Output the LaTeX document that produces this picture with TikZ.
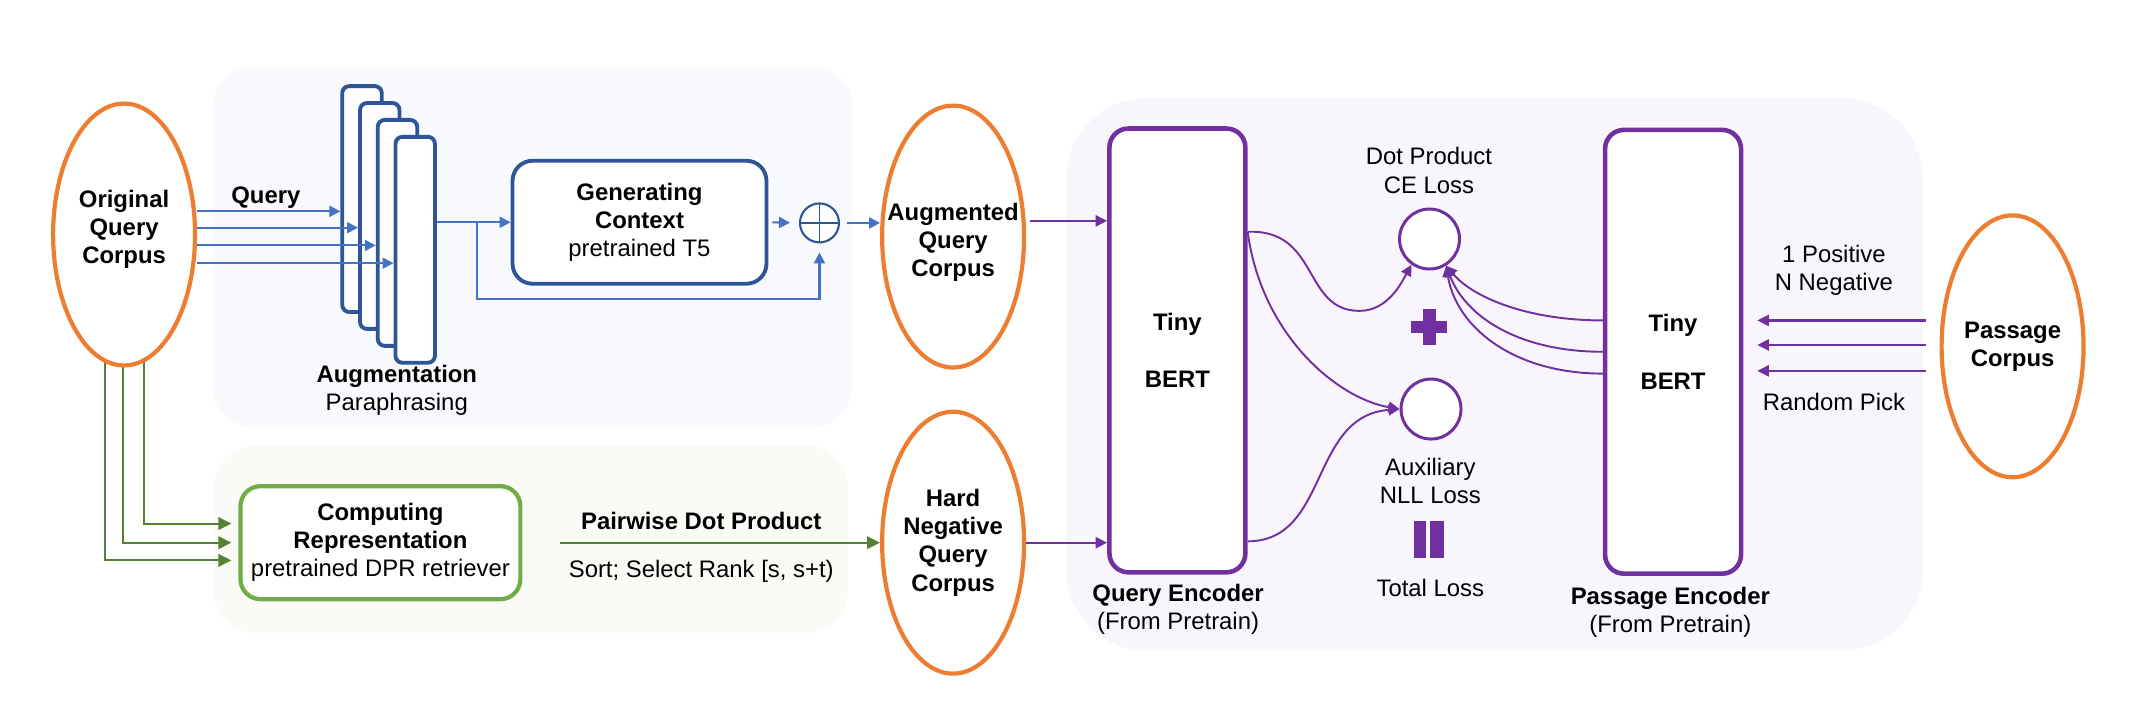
\documentclass[tikz,border=0pt]{standalone}
\usepackage{fontspec}
\setmainfont{Liberation Sans}
\usetikzlibrary{shapes, backgrounds, arrows.meta, positioning}

\definecolor{corpusorange}{HTML}{ED7D31}
\definecolor{augblue}{HTML}{2F5597}
\definecolor{arrowblue}{HTML}{4472C4}
\definecolor{repgreen}{HTML}{70AD47}
\definecolor{arrowgreen}{HTML}{548235}
\definecolor{encpurple}{HTML}{7030A0}
\definecolor{toppanel}{HTML}{F7F9FC}
\definecolor{botpanel}{HTML}{FAFAF7}
\definecolor{rightpanel}{HTML}{F8F6FC}

\begin{document}
\begin{tikzpicture}[x=0.013635cm, y=-0.013635cm, font=\fontsize{6.8}{8}\selectfont,
        >={Triangle[length=1.1mm,width=1.1mm]}]
        \tikzstyle{every node}=[align=center]
        \tikzstyle{corpus}=[ellipse, draw=corpusorange, line width=1.2pt, fill=white, minimum width=1.42cm, minimum height=2.62cm, inner sep=0pt]
        \tikzstyle{corpustext}=[font=\fontsize{6.8}{8}\selectfont\bfseries, inner sep=0pt]
        \tikzstyle{augrect}=[draw=augblue, fill=white, line width=1.1pt, rounded corners=2pt, minimum width=0.395cm, minimum height=2.26cm]
        \tikzstyle{genbox}=[draw=augblue, fill=white, line width=1.1pt, rounded corners=0.2cm, minimum width=2.54cm, minimum height=1.23cm]
        \tikzstyle{oplus}=[circle, draw=augblue, line width=0.6pt, fill=white, minimum size=0.39cm, inner sep=0pt,
            path picture={\draw[augblue, line width=0.5pt] (path picture bounding box.north) -- (path picture bounding box.south)
            (path picture bounding box.west) -- (path picture bounding box.east);}]
        \tikzstyle{repbox}=[draw=repgreen, fill=white, line width=1.2pt, rounded corners=0.2cm, minimum width=2.8cm, minimum height=1.13cm, inner sep=1pt]
        \tikzstyle{encbox}=[draw=encpurple, fill=white, line width=1.3pt, rounded corners=0.19cm, minimum width=1.36cm, minimum height=4.44cm]
        \tikzstyle{losscirc}=[circle, draw=encpurple, line width=0.85pt, fill=white, minimum size=0.6cm, inner sep=0pt]
        \tikzstyle{barrow}=[->, draw=arrowblue, line width=0.6pt]
        \tikzstyle{garrow}=[-{Triangle[length=1.3mm,width=1.25mm]}, draw=arrowgreen, line width=0.6pt]
        \tikzstyle{parrow}=[-{Triangle[length=1.15mm,width=1.1mm]}, draw=encpurple, line width=0.65pt]
        \tikzstyle{pcurve}=[->, draw=encpurple, line width=0.55pt]

        \useasboundingbox (0,0) rectangle (1568,522);

        % corpora
        \node[corpus] at (91, 172) (oqc) {};
        \node[corpustext] at (91, 168) (oqctext) {Original\\Query\\Corpus};
        \node[corpus] at (699, 173.5) (augq) {};
        \node[corpustext] at (699, 177.5) (augqtext) {Augmented\\Query\\Corpus};
        \node[corpus] at (699, 398) (hneg) {};
        \node[corpustext] at (hneg) (hnegtext) {Hard\\Negative\\Query\\Corpus};
        \node[corpus] at (1476, 254) (pcorp) {};
        \node[corpustext] at (pcorp) (pcorptext) {Passage\\Corpus};

        % augmentation
        \foreach \i in {0,...,3}
            \node[augrect] at (265.5+13*\i, 146+12.4*\i) (aug\i) {};
        \foreach \i/\y in {0/155, 1/167, 2/180, 3/193}
            \draw[barrow] (oqc.east |- 0,\y) -- (aug\i.west |- 0,\y);
        \node at (195, 145) (querylab) {\textbf{Query}};
        \node at (291, 286) (auglab) {\textbf{Augmentation}\\Paraphrasing};

        \node[genbox] at (469, 163) (gen) {\textbf{Generating}\\\textbf{Context}\\pretrained T5};
        \node[oplus] at (601, 163.5) (oplus) {};
        \coordinate (br) at (350, 163);
        \coordinate (brdown) at (350, 219.5);

        \draw[barrow] (aug3.east |- gen.west) -- (gen.west);
        \draw[barrow, shorten >=0.9mm] (br) -- (brdown) -| (oplus.south);
        \draw[barrow, shorten <=0.4mm, shorten >=0.9mm] (gen.east) -- (oplus.west);
        \draw[barrow, shorten <=0.7mm] (oplus.east) -- (augq.west |- oplus.east);

        % hard negatives
        \node[repbox] at (279, 398) (rep) {\textbf{Computing}\\\textbf{Representation}\\pretrained DPR retriever};
        \draw[garrow, shorten <=3.8mm] (rep.east) -- (hneg.west |- rep.east)
            node[midway, above] (pairlab) {\textbf{Pairwise Dot Product}}
            node[midway, below, yshift=-0.5mm] (sortlab) {Sort; Select Rank [s, s+t)};

        % encoders
        \node[encbox] at (863.5, 257) (qenc) {\textbf{Tiny}\\[8.3pt]\textbf{BERT}};
        \node[encbox] at (1227, 258) (penc) {\textbf{Tiny}\\[8.3pt]\textbf{BERT}};
        \node at (864, 447) (qenclab) {\textbf{Query Encoder}\\(From Pretrain)};
        \node at (1225, 449) (penclab) {\textbf{Passage Encoder}\\(From Pretrain)};

        \node[losscirc] at (1048.4, 175.3) (dotc) {};
        \node[losscirc] at (1049.5, 300) (auxc) {};
        \node at (1048, 125) (dotlab) {Dot Product\\CE Loss};
        \node at (1049, 353) (auxlab) {Auxiliary\\NLL Loss};
        \node at (1049, 431) (totlab) {Total Loss};
        \node at (1345, 198) (poslab) {1 Positive\\N Negative};
        \node at (1345, 295) (randlab) {Random Pick};

        \fill[encpurple] (1035,235.5) rectangle (1061.5,244.5);
        \fill[encpurple] (1043.8,226.6) rectangle (1052.8,253);
        \fill[encpurple] (1037,382) rectangle (1046,409);
        \fill[encpurple] (1048.5,382) rectangle (1059,409);

        \draw[parrow, shorten <=0.4mm] (augq.east |- 0,162) -- (qenc.west |- 0,162);
        \draw[parrow] (hneg.east |- 0,398) -- (qenc.west |- 0,398);

        \draw[pcurve] (qenc.east |- 0,170) .. controls (968,168) and (955,228) .. (997,228)
            .. controls (1018,228) and (1028,207) .. (dotc.235);
        \draw[pcurve] (qenc.east |- 0,170) .. controls (925,245) and (980,292) .. (auxc.west);
        \draw[pcurve] (qenc.east |- 0,397) .. controls (975,397) and (960,305) .. (auxc.west);

        \draw[pcurve] (penc.west |- 0,235) .. controls (1120,235) and (1080,218) .. (dotc.-58);
        \draw[pcurve] (penc.west |- 0,258) .. controls (1115,258) and (1075,233) .. (dotc.-58);
        \draw[pcurve] (penc.west |- 0,274) .. controls (1110,274) and (1068,240) .. (dotc.-58);

        \foreach \y in {235, 253, 272}
            \draw[parrow, shorten <=1.4mm, shorten >=1.4mm] (pcorp.west |- 0,\y) -- (penc.east |- 0,\y);

        % panels
        \begin{scope}[on background layer]
            \fill[toppanel, rounded corners=0.4cm] (156,49) rectangle (625,313);
            \fill[botpanel, rounded corners=0.4cm] (157,327) rectangle (622,464);
            \fill[rightpanel, rounded corners=0.8cm] (782,72) rectangle (1410,477);
            \foreach \x/\y in {77/411, 90/398, 105.5/384}
                \draw[garrow, shorten >=0.7mm] (oqc.center -| \x,0) |- (rep.west |- 0,\y);
        \end{scope}
\end{tikzpicture}
\end{document}
